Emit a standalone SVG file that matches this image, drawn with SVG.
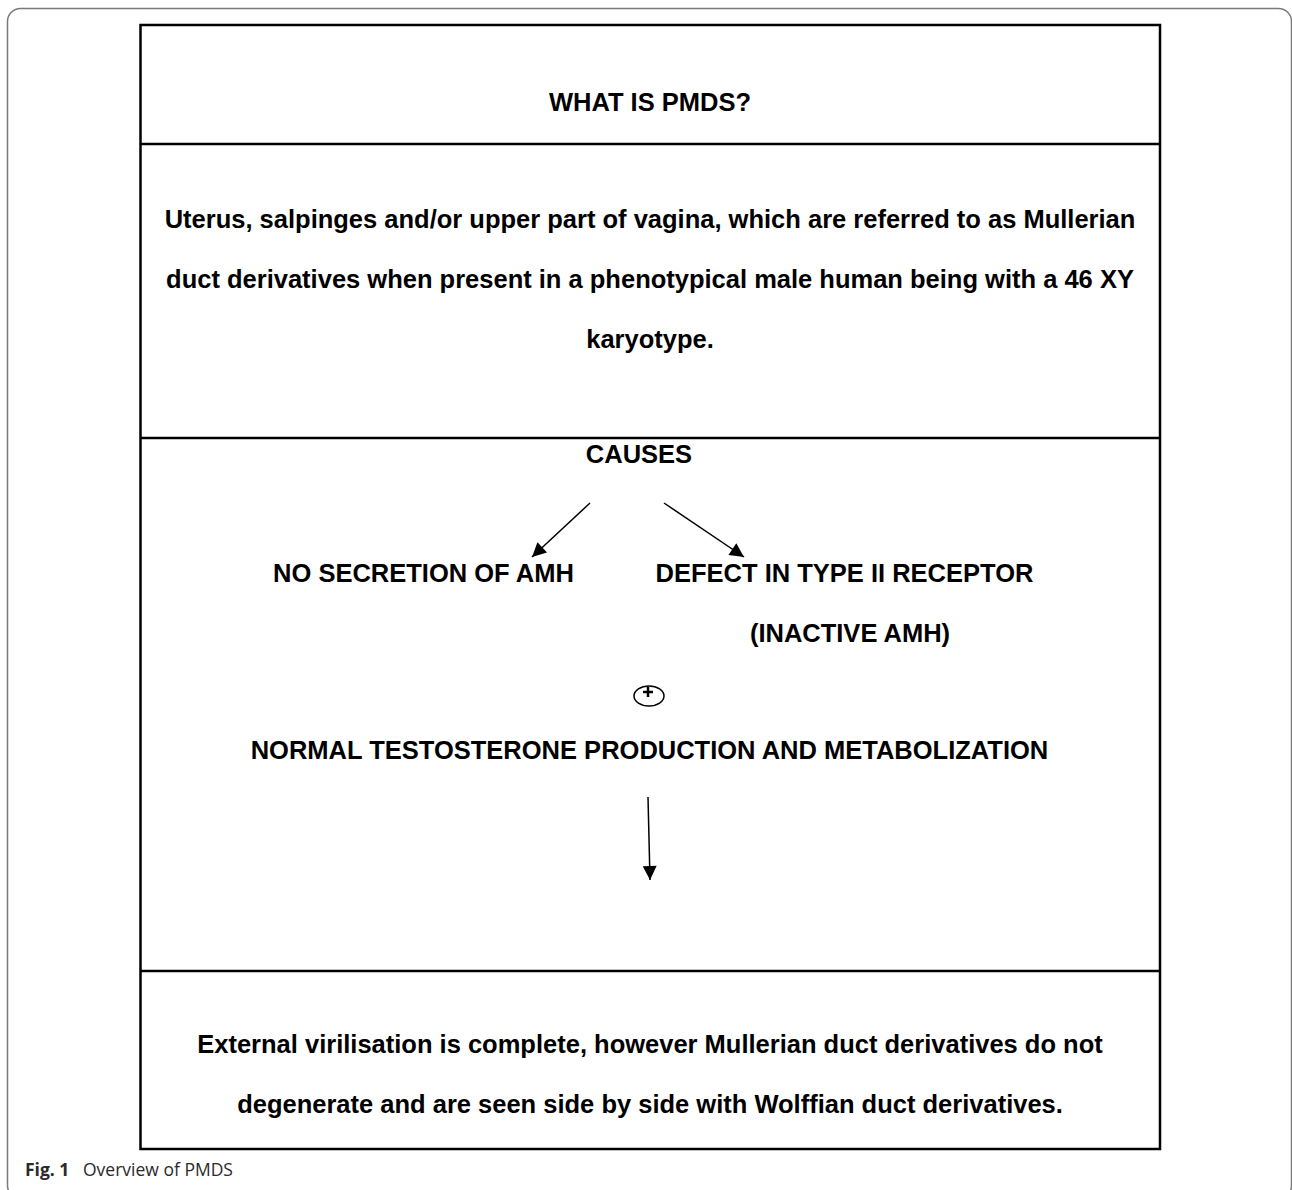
<svg xmlns="http://www.w3.org/2000/svg" width="1292" height="1190" viewBox="0 0 1292 1190">
<defs>
<marker id="ah" viewBox="0 0 10 10" refX="10" refY="5" markerWidth="15" markerHeight="14" markerUnits="userSpaceOnUse" orient="auto">
<path d="M0,0 L10,5 L0,10 z" fill="#000"/>
</marker>
<style>
.t{font-family:"Liberation Sans",Arial,sans-serif;font-weight:bold;font-size:25.5px;fill:#000;text-anchor:middle}
.box{fill:none;stroke:#000;stroke-width:2.5}
.cn{stroke:#000;stroke-width:1.5;fill:none}
</style>
</defs>
<rect width="1292" height="1190" fill="#fff"/>
<rect x="7.5" y="8.5" width="1284" height="1190" rx="13" ry="13" fill="none" stroke="#7a7a7a" stroke-width="1.5"/>
<g id="frame">
<rect class="box" x="140.5" y="25" width="1019.5" height="1124"/>
<line class="box" x1="140.5" y1="144" x2="1160" y2="144"/>
<line class="box" x1="140.5" y1="438" x2="1160" y2="438"/>
<line class="box" x1="140.5" y1="971" x2="1160" y2="971"/>
</g>
<g id="what">
<text class="t" x="650" y="111">WHAT IS PMDS?</text>
</g>
<g id="definition">
<text class="t" x="650" y="228">Uterus, salpinges and/or upper part of vagina, which are referred to as Mullerian</text>
<text class="t" x="650" y="288">duct derivatives when present in a phenotypical male human being with a 46 XY</text>
<text class="t" x="650" y="348">karyotype.</text>
</g>
<g id="causes">
<text class="t" x="639" y="463">CAUSES</text>
</g>
<g id="nosecretion">
<text class="t" x="423.5" y="582">NO SECRETION OF AMH</text>
</g>
<g id="defect">
<text class="t" x="844.5" y="582">DEFECT IN TYPE II RECEPTOR</text>
<text class="t" x="850" y="642">(INACTIVE AMH)</text>
</g>
<g id="plus">
<ellipse cx="649" cy="696" rx="15" ry="10" fill="none" stroke="#000" stroke-width="1.5"/>
<path d="M643,692 H653 M648,687 V697" stroke="#000" stroke-width="2.5"/>
</g>
<g id="normal">
<text class="t" x="649.5" y="759">NORMAL TESTOSTERONE PRODUCTION AND METABOLIZATION</text>
</g>
<g id="outcome">
<text class="t" x="650" y="1053">External virilisation is complete, however Mullerian duct derivatives do not</text>
<text class="t" x="650" y="1113">degenerate and are seen side by side with Wolffian duct derivatives.</text>
</g>
<g id="connectors">
<line class="cn" x1="590" y1="503" x2="532" y2="557" marker-end="url(#ah)"/>
<line class="cn" x1="664" y1="503" x2="744" y2="557" marker-end="url(#ah)"/>
<line class="cn" x1="648" y1="797" x2="650" y2="880" marker-end="url(#ah)"/>
</g>
<g id="caption">
<text x="25" y="1176" font-family="'Open Sans',sans-serif" font-size="17.5" fill="#2a2a2a"><tspan font-weight="bold">Fig. 1</tspan><tspan x="83">Overview of PMDS</tspan></text>
</g>
</svg>
